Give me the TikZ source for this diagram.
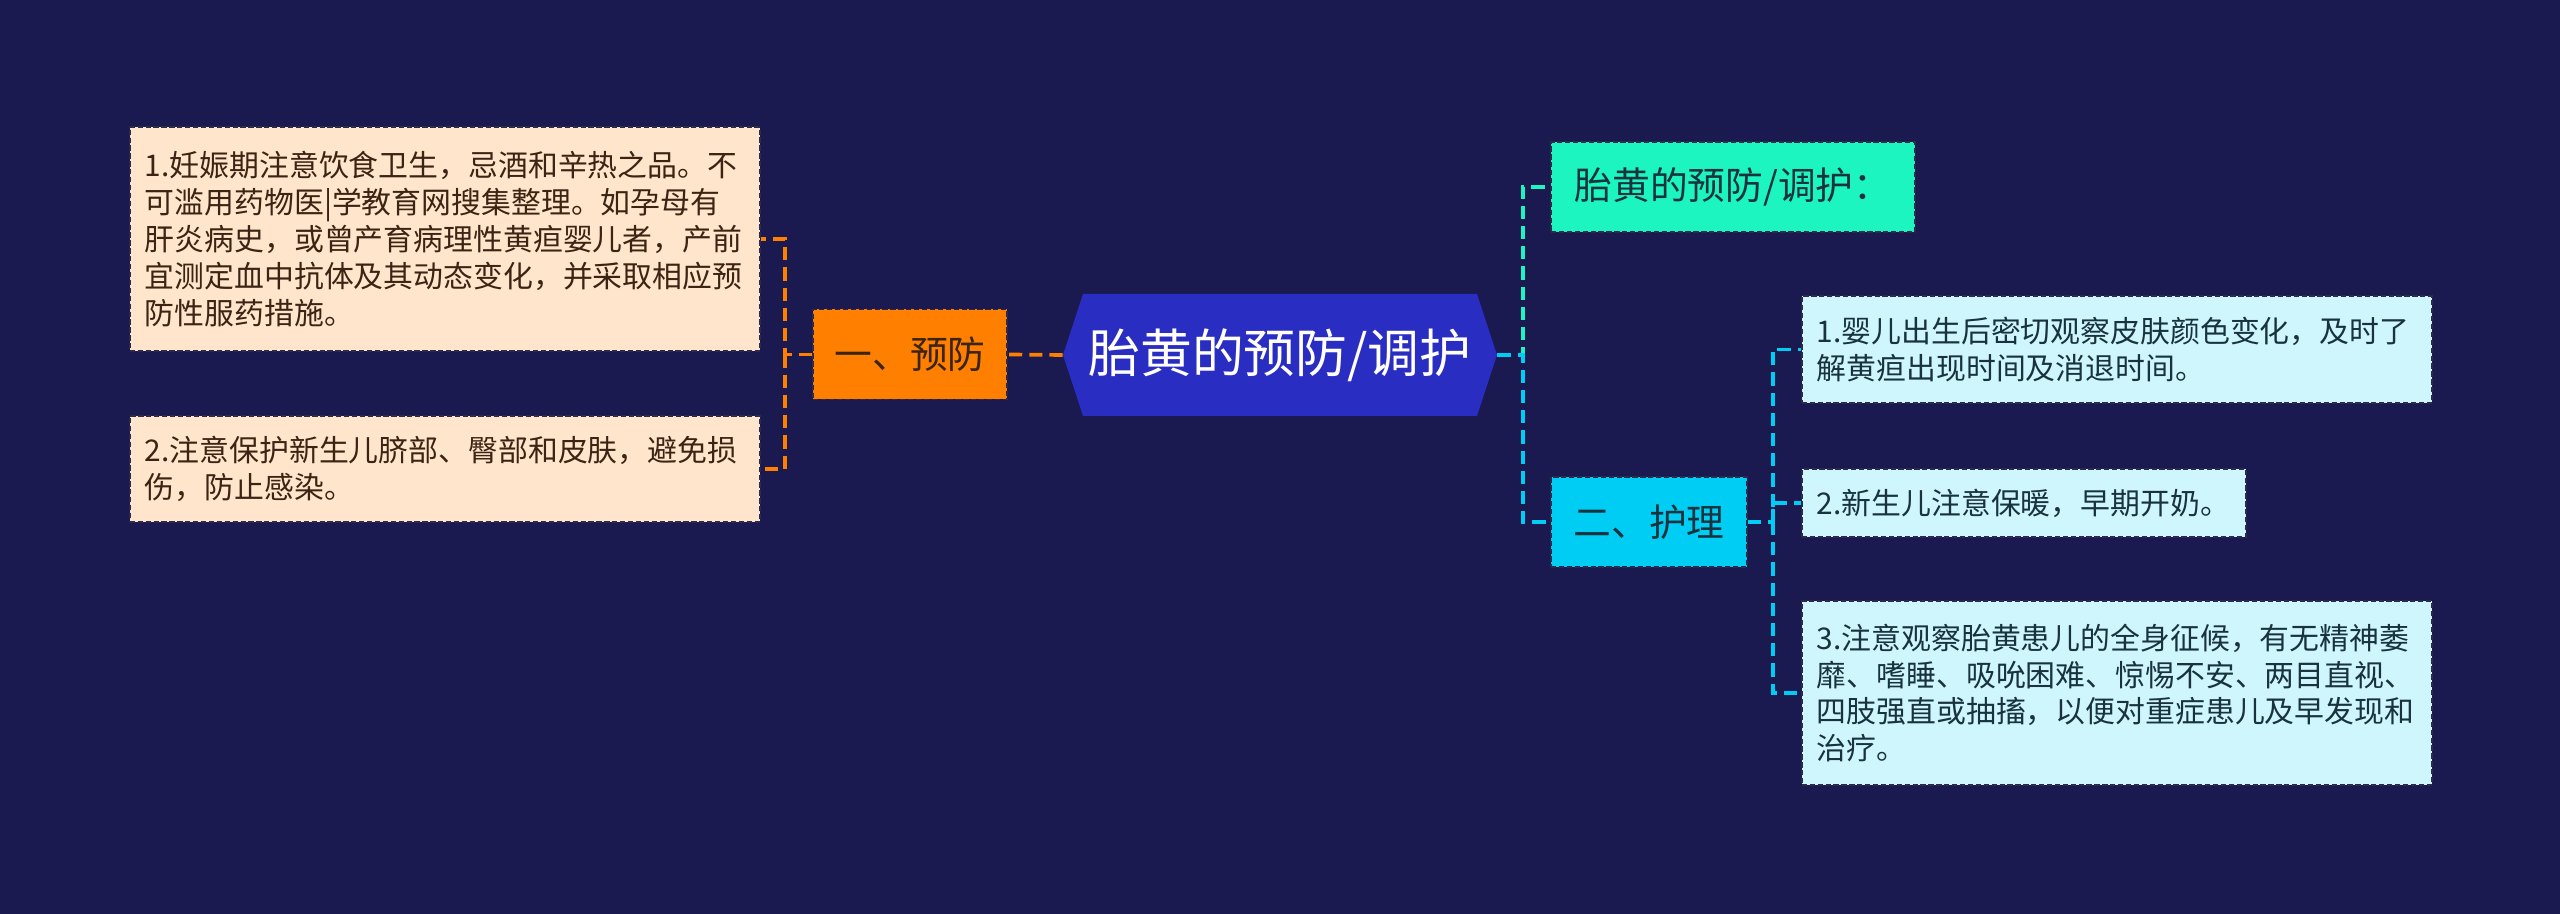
\documentclass[tikz,border=0pt]{standalone}
\usepackage{fontspec}
\newfontfamily\cjk{Noto Sans CJK SC}
\usetikzlibrary{positioning, calc}
\definecolor{navybg}{HTML}{1A1950}
\definecolor{hexblue}{HTML}{2A2DC2}
\definecolor{amber}{HTML}{FF7F00}
\definecolor{peach}{HTML}{FFE5CB}
\definecolor{mint}{HTML}{1CF5C0}
\definecolor{skycyan}{HTML}{00CDF3}
\definecolor{icecyan}{HTML}{D0F6FD}
\definecolor{inkbrown}{HTML}{3B2414}
\definecolor{inkteal}{HTML}{18333D}
\definecolor{edgedark}{HTML}{2C2A4A}

\begin{document}
\begin{tikzpicture}[
  leafbox/.style={draw=edgedark, line width=0.9pt, dash pattern=on 3pt off 1.5pt,
    font=\cjk\fontsize{17}{21}\selectfont, align=left, text width=12cm,
    inner xsep=0.3cm, inner ysep=0.2cm, anchor=west},
  branchbox/.style={draw=edgedark, line width=0.9pt, dash pattern=on 3pt off 1.5pt,
    font=\cjk\fontsize{21.5}{26}\selectfont, minimum height=1.8cm, inner xsep=0.3cm},
  link/.style={line width=2.1pt, dash pattern=on 7.5pt off 4pt}
]

% Background
\fill[navybg] (0,0) rectangle (51.2,18.28);

% Root hexagon
\fill[hexblue] (21.26,11.18) -- (21.66,12.40) -- (29.54,12.40) -- (29.94,11.18)
  -- (29.54,9.96) -- (21.66,9.96) -- cycle;
\node[text=white, font=\cjk\fontsize{29.5}{34}\selectfont, minimum width=8.68cm,
  minimum height=2.44cm, inner sep=0pt] (root) at (25.6,11.18) {胎黄的预防/调护};

% --- Left branch: prevention ---
\node[branchbox, fill=amber, text=inkbrown, minimum width=3.88cm] (yufang) at (18.2,11.19) {一、预防};

\node[leafbox, fill=peach, text=inkbrown, minimum height=4.48cm] (prevA) at (2.58,13.50)
  {1.妊娠期注意饮食卫生，忌酒和辛热之品。不\\
   可滥用药物医|学教育网搜集整理。如孕母有\\
   肝炎病史，或曾产育病理性黄疸婴儿者，产前\\
   宜测定血中抗体及其动态变化，并采取相应预\\
   防性服药措施。};
\node[leafbox, fill=peach, text=inkbrown, minimum height=2.12cm] (prevB) at (2.58,8.90)
  {2.注意保护新生儿脐部、臀部和皮肤，避免损\\
   伤，防止感染。};

\coordinate (lbus) at (15.70,11.19);
\draw[link, amber] (root.west) -- (yufang.east);
\draw[link, amber] (yufang.west) -- (lbus) |- (prevA.east);
\draw[link, amber] (lbus) |- (prevB.east);

% --- Right branch: care ---
\node[branchbox, fill=mint, text=inkteal, minimum width=7.28cm] (tips) at (34.66,14.54) {胎黄的预防/调护：};
\node[branchbox, fill=skycyan, text=inkteal, minimum width=3.92cm] (huli) at (32.98,7.84) {二、护理};

\node[leafbox, fill=icecyan, text=inkteal, minimum height=2.14cm] (careA) at (36.02,11.29)
  {1.婴儿出生后密切观察皮肤颜色变化，及时了\\
   解黄疸出现时间及消退时间。};
\node[leafbox, fill=icecyan, text=inkteal, text width=8.28cm, minimum height=1.36cm] (careB) at (36.02,8.22)
  {2.新生儿注意保暖，早期开奶。};
\node[leafbox, fill=icecyan, text=inkteal, minimum height=3.68cm] (careC) at (36.02,4.42)
  {3.注意观察胎黄患儿的全身征候，有无精神萎\\
   靡、嗜睡、吸吮困难、惊惕不安、两目直视、\\
   四肢强直或抽搐，以便对重症患儿及早发现和\\
   治疗。};

\coordinate (rbus) at (30.46,11.18);
\draw[link, mint] (root.east) -- (rbus) |- (tips.west);
\draw[link, skycyan] (root.east) -- (rbus) |- (huli.west);

\coordinate (hbus) at (35.46,7.84);
\draw[link, skycyan] (huli.east) -- (hbus) |- (careA.west);
\draw[link, skycyan] (hbus) |- (careB.west);
\draw[link, skycyan] (hbus) |- (careC.west);

\end{tikzpicture}
\end{document}
